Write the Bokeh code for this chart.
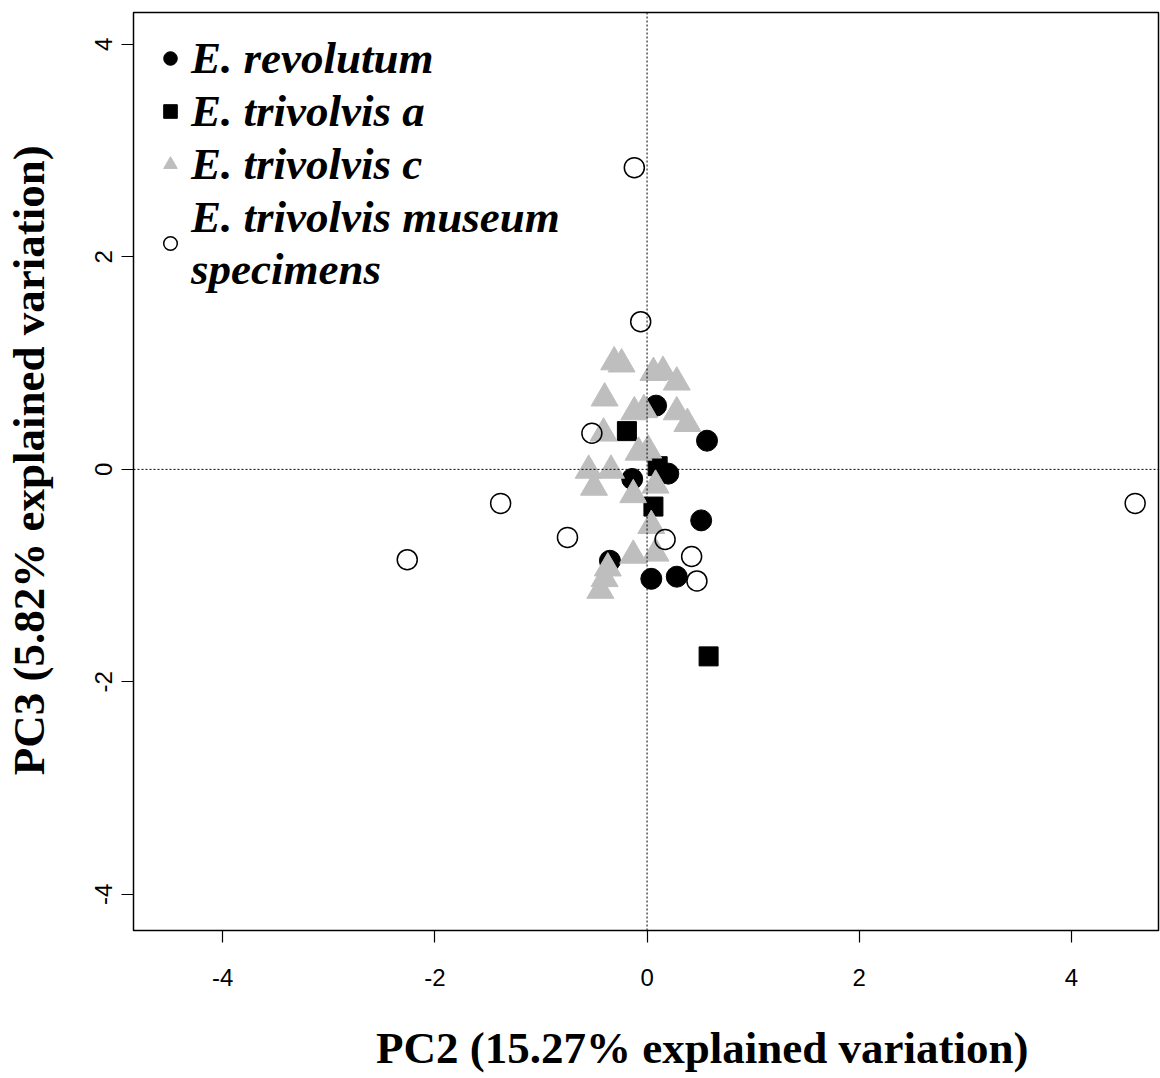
from bokeh.plotting import figure
from bokeh.models import Range1d, Span, Legend, LegendItem, FixedTicker, PrintfTickFormatter
from bokeh.embed import file_html
from bokeh.resources import INLINE

# E. revolutum
rev_x = [0.085, 0.565, -0.14, 0.20, 0.51, -0.35, 0.04, 0.28]
rev_y = [0.60, 0.27, -0.09, -0.04, -0.48, -0.86, -1.03, -1.01]
# E. trivolvis a
tra_x = [-0.19, 0.10, 0.06, 0.58]
tra_y = [0.36, 0.03, -0.35, -1.76]
# E. trivolvis c
trc_x = [-0.31, -0.24, 0.06, 0.15, 0.28, -0.40, -0.12, -0.03, 0.28, 0.38, -0.41,
         -0.08, 0.01, -0.55, -0.34, -0.50, 0.08, -0.13, 0.04, -0.13, 0.08, -0.37, -0.40, -0.44]
trc_y = [1.01, 0.99, 0.91, 0.92, 0.82, 0.67, 0.54, 0.56, 0.54, 0.43, 0.34,
         0.16, 0.18, -0.01, -0.01, -0.17, -0.15, -0.24, -0.53, -0.81, -0.79, -0.93, -1.03, -1.14]
# E. trivolvis museum specimens
mus_x = [-0.12, -0.06, -0.52, -1.38, -0.75, -2.26, 0.17, 0.42, 0.47, 4.60]
mus_y = [2.84, 1.39, 0.34, -0.32, -0.64, -0.85, -0.66, -0.82, -1.05, -0.32]

ticks = [-4, -2, 0, 2, 4]
x_title = "PC2 (15.27% explained variation)"
y_title = "PC3 (5.82% explained variation)"
labels = ["E. revolutum", "E. trivolvis a", "E. trivolvis c", "E. trivolvis museum\nspecimens"]

p = figure(width=1160, height=1078, output_backend="svg", toolbar_location=None,
           x_range=Range1d(-4.84, 4.82), y_range=Range1d(-4.34, 4.30),
           min_border_left=132, min_border_right=2, min_border_top=12, min_border_bottom=148)
p.grid.visible = False
p.outline_line_color = "black"
p.outline_line_width = 1.5

for ax in (p.xaxis[0], p.yaxis[0]):
    ax.ticker = FixedTicker(ticks=ticks)
    ax.formatter = PrintfTickFormatter(format="%d")
    ax.minor_tick_line_color = None
    ax.major_tick_out = 12
    ax.major_tick_in = 0
    ax.axis_line_color = None
    ax.major_tick_line_width = 1.2
    ax.major_label_text_font = "Liberation Sans"
    ax.major_label_text_font_size = "24px"
    ax.major_label_text_color = "black"
    ax.axis_label_text_font = "Liberation Serif"
    ax.axis_label_text_font_style = "bold"
    ax.axis_label_text_font_size = "45px"
    ax.axis_label_text_color = "black"

# leading no-break spaces shift the centred titles, as in the original
p.xaxis.axis_label = "\u00a0" * 10 + x_title
p.yaxis.axis_label = "\u00a0" * 2 + y_title
p.xaxis.major_label_standoff = 26
p.xaxis.axis_label_standoff = 34
p.yaxis.major_label_orientation = "vertical"
p.yaxis.major_label_standoff = 10
p.yaxis.axis_label_standoff = 38

p.add_layout(Span(location=0, dimension="height", line_color="black", line_dash="2 2", line_width=1))
p.add_layout(Span(location=0, dimension="width", line_color="black", line_dash="2 2", line_width=1))

r1 = p.scatter(rev_x, rev_y, marker="circle", size=21, fill_color="black", line_color="black")
r2 = p.scatter(tra_x, tra_y, marker="square", size=19, fill_color="black", line_color="black")
r3 = p.scatter(trc_x, trc_y, marker="triangle", size=27, fill_color="#bebebe", line_color="#bebebe")
r4 = p.scatter(mus_x, mus_y, marker="circle", size=20, fill_color=None, line_color="black", line_width=1.5)

legend = Legend(items=[LegendItem(label=l, renderers=[r]) for l, r in zip(labels, [r1, r2, r3, r4])],
                location="top_left")
legend.border_line_color = None
legend.background_fill_alpha = 0
legend.label_text_font = "Liberation Serif"
legend.label_text_font_style = "bold italic"
legend.label_text_font_size = "45px"
legend.label_text_color = "black"
legend.label_height = 40
legend.glyph_width = 34
legend.glyph_height = 40
legend.spacing = 1
legend.margin = 20
legend.padding = 12
legend.label_standoff = 4
p.add_layout(legend)

open("out.html", "w").write(file_html(p, INLINE))
